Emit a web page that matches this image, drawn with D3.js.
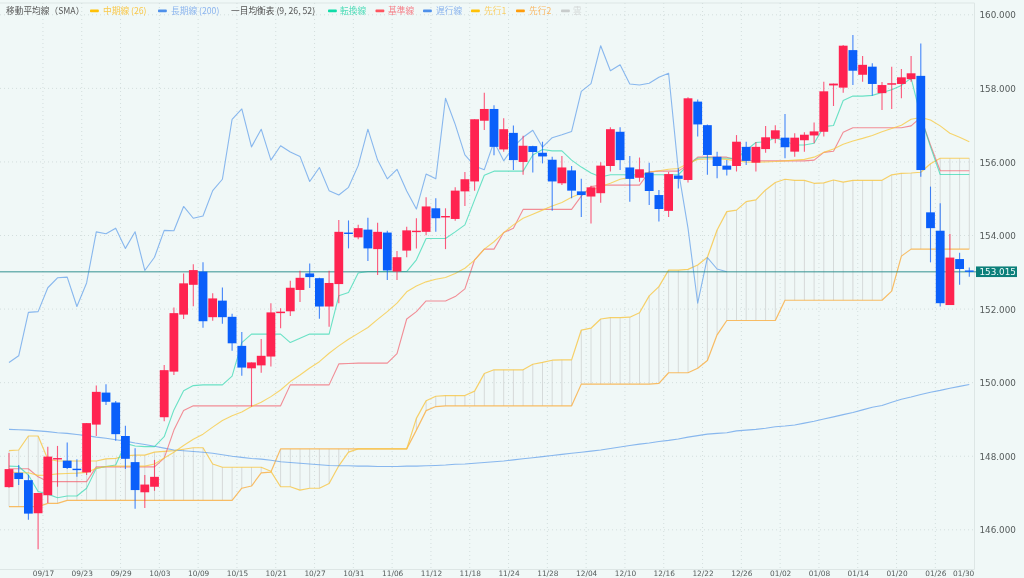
<!DOCTYPE html>
<html><head><meta charset="utf-8">
<script src="https://cdn.jsdelivr.net/npm/d3@7/dist/d3.min.js"></script>
<style>
html,body{margin:0;padding:0;background:#f0f8f7;overflow:hidden}
svg{display:block;filter:blur(0.35px)}
text{font-family:"DejaVu Sans",sans-serif}
</style></head><body>
<svg id="c" width="1024" height="578"></svg>
<script>
const tickLabels=["09/17","09/23","09/29","10/03","10/09","10/15","10/21","10/27","10/31","11/06","11/12","11/18","11/24","11/28","12/04","12/10","12/16","12/22","12/26","01/02","01/08","01/14","01/20","01/26","01/30"];
const priceTicks=[146,148,150,152,154,156,158,160];
const lastPrice=153.015;
const open=[147.16,147.55,147.35,146.45,146.94,147.93,147.88,147.66,147.56,148.86,
149.73,149.46,148.55,147.84,147.02,147.17,149.06,150.30,151.85,152.66,
153.02,151.78,152.23,151.79,151.00,150.39,150.47,150.71,151.89,151.94,
152.52,152.97,152.84,152.07,152.68,154.08,153.95,154.16,153.63,154.08,
153.02,153.59,154.10,154.10,154.74,154.51,154.45,155.20,155.47,157.12,
157.44,156.34,156.79,156.00,156.43,156.25,156.06,155.42,155.77,155.20,
155.06,155.15,155.89,156.82,155.85,155.57,155.71,155.10,154.67,155.63,
155.51,157.64,157.00,156.14,155.90,155.89,156.41,155.98,156.35,156.63,
156.66,156.28,156.59,156.72,156.82,158.08,158.02,159.04,158.37,158.59,
157.87,158.10,158.12,158.25,158.34,154.63,154.13,152.11,153.36,153.05];
const high=[148.09,147.76,147.49,147.00,148.26,148.28,148.37,147.92,148.90,149.92,
149.96,149.50,148.83,148.22,147.49,147.90,150.48,152.04,152.97,153.22,
153.27,152.43,152.59,151.87,151.38,150.55,151.19,152.16,152.02,152.77,
153.04,153.24,152.85,153.04,154.42,154.41,154.29,154.48,154.35,154.13,
153.58,154.24,154.47,155.04,155.01,154.74,155.31,155.73,157.16,157.88,
157.54,157.19,156.99,156.71,156.44,156.55,156.14,156.16,155.89,155.54,
155.35,155.99,156.94,156.94,156.16,156.12,155.98,155.24,155.73,155.83,
157.76,157.70,157.02,156.28,156.05,156.73,156.55,156.54,156.98,157.00,
157.30,156.78,156.81,157.07,158.18,158.13,159.18,159.45,158.88,158.68,
158.17,158.59,158.53,158.88,159.22,155.33,154.88,154.04,153.53,153.13];
const low=[147.14,147.22,146.27,145.47,146.73,147.17,147.65,147.44,147.49,148.55,
149.39,148.42,147.65,146.57,146.59,147.06,148.95,150.21,151.73,152.08,
151.49,151.68,151.60,150.87,150.19,149.35,150.27,150.44,151.48,151.81,
152.19,152.57,151.74,151.52,152.16,153.65,153.90,153.31,152.93,152.79,
152.79,153.41,153.65,154.01,154.10,153.63,154.40,154.80,155.22,156.87,
156.18,156.28,155.78,155.65,155.71,155.96,154.67,155.37,155.01,154.50,
154.33,154.89,155.74,155.78,154.92,155.46,154.83,154.38,154.50,155.28,
155.44,156.69,155.65,155.56,155.63,155.74,155.92,155.74,156.25,156.51,
156.10,156.14,156.28,156.51,156.69,157.52,157.88,158.09,158.18,157.80,
157.41,157.44,157.73,158.18,155.60,153.27,152.07,152.11,152.66,152.88];
const close=[147.65,147.38,146.44,147.00,147.99,147.95,147.68,147.63,148.90,149.75,
149.48,148.60,147.93,147.08,147.23,147.44,150.34,151.89,152.70,153.06,
151.67,152.29,151.78,151.07,150.41,150.55,150.73,151.91,151.93,152.58,
152.85,152.87,152.07,152.71,154.10,154.05,154.20,153.65,154.10,153.05,
153.41,154.14,154.13,154.79,154.47,154.53,155.22,155.53,157.16,157.44,
156.41,156.89,156.05,156.44,156.27,156.15,155.47,155.85,155.22,155.10,
155.31,155.90,156.89,156.05,155.54,155.80,155.21,154.72,155.67,155.54,
157.73,157.02,156.19,155.89,155.79,156.55,156.03,156.41,156.67,156.86,
156.40,156.66,156.74,156.83,157.92,158.13,159.16,158.48,158.64,158.12,
158.09,158.14,158.30,158.41,155.78,154.20,152.16,153.40,153.09,153.015];
const sma26=[147.58,147.55,147.55,147.48,147.49,147.52,147.53,147.54,147.56,147.67,
147.72,147.73,147.73,147.73,147.73,147.79,147.95,148.11,148.29,148.46,
148.60,148.79,148.97,149.10,149.20,149.35,149.47,149.62,149.80,150.03,
150.21,150.40,150.57,150.80,151.00,151.18,151.34,151.50,151.72,151.93,
152.16,152.47,152.63,152.74,152.81,152.86,152.97,153.11,153.33,153.63,
153.83,154.08,154.29,154.47,154.58,154.69,154.80,154.90,155.04,155.15,
155.22,155.33,155.42,155.53,155.58,155.66,155.72,155.76,155.80,155.82,
155.96,156.07,156.08,156.08,156.07,156.03,156.00,155.99,156.00,156.01,
156.03,156.05,156.07,156.13,156.26,156.35,156.48,156.57,156.64,156.72,
156.82,156.91,157.00,157.16,157.21,157.14,156.98,156.78,156.67,156.55];
const sma200=[148.73,148.72,148.71,148.69,148.67,148.64,148.62,148.59,148.56,148.52,
148.49,148.45,148.41,148.36,148.32,148.27,148.22,148.17,148.15,148.13,
148.11,148.08,148.04,148.00,147.97,147.94,147.92,147.89,147.85,147.83,
147.81,147.79,147.77,147.75,147.74,147.74,147.73,147.73,147.72,147.72,
147.72,147.73,147.73,147.74,147.75,147.76,147.78,147.79,147.81,147.83,
147.85,147.87,147.90,147.93,147.96,147.99,148.02,148.05,148.08,148.11,
148.14,148.17,148.21,148.25,148.29,148.33,148.36,148.40,148.43,148.47,
148.52,148.56,148.60,148.62,148.64,148.69,148.71,148.73,148.76,148.80,
148.82,148.85,148.90,148.95,149.01,149.07,149.13,149.19,149.26,149.33,
149.38,149.47,149.55,149.61,149.68,149.74,149.79,149.85,149.90,149.95];
const tenkan=[147.73,147.72,147.49,147.04,146.97,146.87,146.92,146.92,147.13,147.67,
147.72,147.76,148.35,148.28,148.26,148.26,148.53,149.26,149.78,149.92,
149.94,149.94,149.94,150.18,151.09,151.32,151.32,151.32,151.32,151.09,
151.21,151.32,151.32,151.32,152.36,152.45,152.98,153.02,153.02,153.02,
153.02,153.02,153.34,153.92,153.92,153.92,154.10,154.29,154.97,155.64,
155.75,155.75,155.75,155.75,156.19,156.34,156.30,156.30,156.05,155.86,
155.70,155.59,155.65,155.65,155.65,155.65,155.65,155.65,155.65,155.65,
155.92,156.10,156.12,156.10,156.10,156.10,156.32,156.53,156.55,156.65,
156.57,156.46,156.46,156.51,156.96,156.99,157.67,157.79,157.79,157.81,
157.89,157.96,158.08,158.28,157.23,156.41,155.66,155.66,155.66,155.66];
const kijun=[147.66,147.66,147.66,147.44,147.31,147.31,147.31,147.31,147.31,147.71,
147.71,147.71,147.71,147.71,147.71,147.71,147.95,148.71,149.24,149.37,
149.37,149.37,149.37,149.37,149.37,149.37,149.37,149.37,149.37,149.94,
149.94,149.94,149.94,149.94,150.51,150.52,150.53,150.53,150.53,150.53,
150.79,151.73,151.93,152.22,152.22,152.22,152.34,152.55,153.34,153.63,
153.63,154.08,154.20,154.71,154.71,154.71,154.71,154.71,154.71,155.07,
155.33,155.37,155.37,155.37,155.37,155.37,155.73,155.75,155.75,155.75,
155.92,156.13,156.13,156.13,156.13,156.05,156.04,156.03,156.03,156.03,
156.03,156.03,156.03,156.05,156.26,156.29,156.81,156.93,156.93,156.93,
156.93,156.93,156.93,156.98,157.21,156.46,155.76,155.76,155.76,155.76];
const chikou=[150.55,150.73,151.91,151.93,152.58,152.85,152.87,152.07,152.71,154.10,
154.05,154.20,153.65,154.10,153.05,153.41,154.14,154.13,154.79,154.47,
154.53,155.22,155.53,157.16,157.44,156.41,156.89,156.05,156.44,156.27,
156.15,155.47,155.85,155.22,155.10,155.31,155.90,156.89,156.05,155.54,
155.80,155.21,154.72,155.67,155.54,157.73,157.02,156.19,155.89,155.79,
156.55,156.03,156.41,156.67,156.86,156.40,156.66,156.74,156.83,157.92,
158.13,159.16,158.48,158.64,158.12,158.09,158.14,158.30,158.41,155.78,
154.20,152.16,153.40,153.09,153.015];
const span1=[148.15,148.17,148.55,148.55,147.92,147.87,147.87,147.87,147.87,147.87,
147.93,147.94,148.01,148.03,148.03,148.11,148.13,148.15,148.19,148.23,
148.23,147.79,147.70,147.70,147.70,147.70,147.70,147.59,147.17,147.17,
147.08,147.13,147.13,147.26,147.74,148.11,148.20,148.20,148.20,148.20,
148.20,148.20,149.03,149.51,149.63,149.65,149.65,149.65,149.77,150.25,
150.35,150.35,150.35,150.35,150.50,150.55,150.61,150.62,150.62,151.43,
151.48,151.73,151.77,151.77,151.78,151.90,152.36,152.61,153.06,153.06,
153.08,153.20,153.41,154.15,154.65,154.69,154.92,154.97,155.24,155.44,
155.53,155.50,155.50,155.42,155.43,155.51,155.45,155.50,155.50,155.50,
155.50,155.65,155.69,155.70,155.72,155.95,156.10,156.10,156.10,156.10];
const span2=[146.63,146.63,146.63,146.63,146.72,146.72,146.80,146.80,146.80,146.80,
146.80,146.80,146.80,146.80,146.80,146.80,146.80,146.80,146.80,146.80,
146.80,146.80,146.80,146.80,147.13,147.19,147.55,147.57,148.20,148.20,
148.20,148.20,148.20,148.20,148.20,148.20,148.20,148.20,148.20,148.20,
148.20,148.20,148.71,149.24,149.35,149.37,149.37,149.37,149.37,149.37,
149.37,149.37,149.37,149.37,149.37,149.37,149.37,149.37,149.37,149.96,
149.96,149.96,149.96,149.96,149.96,149.96,149.96,149.98,150.27,150.27,
150.27,150.39,150.60,151.30,151.69,151.69,151.69,151.69,151.69,151.69,
152.24,152.24,152.24,152.24,152.24,152.24,152.24,152.24,152.24,152.24,
152.24,152.49,153.44,153.63,153.63,153.63,153.63,153.63,153.63,153.63];

for(const [n,a,l] of [["open",open,100],["high",high,100],["low",low,100],["close",close,100],["sma26",sma26,100],["sma200",sma200,100],["tenkan",tenkan,100],["kijun",kijun,100],["chikou",chikou,75],["span1",span1,100],["span2",span2,100]]) if(a.length!==l) throw new Error(n+" "+a.length);

const svg=d3.select("#c");
const L=0,R=974.5,T=3,B=569.5;
const x=d3.scaleLinear().domain([0,99]).range([9,969.3]);
const y=d3.scaleLinear().domain([146,160]).range([529.8,14.8]);
const idx=d3.range(open.length);
const tickPos=tickLabels.map((_,i)=>3.5+4*i);
const tickBy=new Map(tickPos.map((p,i)=>[p,tickLabels[i]]));
const UP="#ff2350",DOWN="#0a5ffa",GRID="#d3dedd",AX="#dde6e5";

// frame
svg.append("path").attr("d",`M0,${T}H${R}V${B}H0`).attr("fill","none").attr("stroke",AX).attr("stroke-width",1);

// grid
const g=svg.append("g");
g.selectAll(".gy").data(priceTicks).join("line").attr("x1",0).attr("x2",R).attr("y1",d=>y(d)).attr("y2",d=>y(d))
 .attr("stroke",GRID).attr("stroke-dasharray","1 3");
g.selectAll(".gx").data(tickPos.slice(0,-1)).join("line").attr("x1",d=>x(d)).attr("x2",d=>x(d)).attr("y1",T).attr("y2",B)
 .attr("stroke",GRID).attr("stroke-dasharray","1 3");

// cloud hatch
svg.append("g").selectAll("line").data(idx).join("line")
 .attr("x1",d=>x(d)).attr("x2",d=>x(d)).attr("y1",d=>y(span1[d])).attr("y2",d=>y(span2[d]))
 .attr("stroke","#cfd2d2").attr("stroke-width",1).attr("opacity",.8);

const line=a=>d3.line().x((_,i)=>x(i)).y(d=>y(d))(a);
const series=[[span2,"#f9b24a",.85,1.2],[span1,"#f8c544",.8,1.2],[sma200,"#5b9bea",.7,1.1],[chikou,"#5b9bea",.7,1.1],[kijun,"#f2606c",.7,1.1],[tenkan,"#22d6aa",.65,1.1],[sma26,"#f8c83c",.75,1.1]];
svg.append("g").selectAll("path").data(series).join("path")
 .attr("d",d=>line(d[0])).attr("fill","none").attr("stroke",d=>d[1]).attr("opacity",d=>d[2]).attr("stroke-width",d=>d[3]).attr("stroke-linejoin","round");

// price line
svg.append("line").attr("x1",0).attr("x2",976).attr("y1",y(lastPrice)).attr("y2",y(lastPrice))
 .attr("stroke","#2f8f8f").attr("stroke-width",1.5).attr("opacity",.65);

// candles
const cg=svg.append("g").selectAll("g").data(idx).join("g");
cg.append("line").attr("x1",d=>x(d)).attr("x2",d=>x(d)).attr("y1",d=>y(high[d])).attr("y2",d=>y(low[d]))
 .attr("stroke",d=>close[d]>=open[d]?UP:DOWN).attr("stroke-width",1.1).attr("opacity",.75);
cg.append("rect").attr("x",d=>x(d)-4.4).attr("width",8.8)
 .attr("y",d=>y(Math.max(open[d],close[d]))).attr("height",d=>Math.max(1.4,Math.abs(y(open[d])-y(close[d]))))
 .attr("fill",d=>close[d]>=open[d]?UP:DOWN);

// axes
const yAxis=d3.axisRight(y).tickValues(priceTicks).tickFormat(d3.format(".3f")).tickSize(0).tickPadding(0);
const ya=svg.append("g").attr("transform","translate(979.5,0)").call(yAxis);
ya.select(".domain").remove();
ya.selectAll("text").attr("font-size",8.8).attr("fill","#555b5b").style("font-family",'"DejaVu Sans",sans-serif').attr("dy","0.35em");

const xAxis=d3.axisBottom(x).tickValues(tickPos).tickFormat(d=>tickBy.get(d)).tickSize(0).tickPadding(0);
const xa=svg.append("g").attr("transform",`translate(0,570.5)`).call(xAxis);
xa.select(".domain").remove();
xa.selectAll("text").attr("font-size",7.4).attr("fill","#555b5b").style("font-family",'"DejaVu Sans",sans-serif').attr("dy","0.71em");
xa.selectAll("g.tick").filter(d=>d===tickPos[tickPos.length-1]).select("text").attr("dx",-11);

// price tag
const tag=svg.append("g");
tag.append("rect").attr("x",976).attr("y",y(lastPrice)-5.3).attr("width",41).attr("height",10.6).attr("fill","#0b7f7a");
tag.append("text").attr("x",979.5).attr("y",y(lastPrice)).attr("dy","0.35em").attr("font-size",8.8).attr("fill","#f0fbfa").text(d3.format(".3f")(lastPrice));

// legend
const lg=svg.append("g");
const cjk='"Noto Sans CJK JP","DejaVu Sans",sans-serif';
const labels=[
 {t:"移動平均線（SMA）",x:6,c:"#555555"},
 {t:"中期線 (26)",x:103,c:"#f9c84a",sw:"#ffc107",sx:90},
 {t:"長期線 (200)",x:171,c:"#8bb4ee",sw:"#4e90ea",sx:158},
 {t:"一目均衡表 (9, 26, 52)",x:231,c:"#555555"},
 {t:"転換線",x:340,c:"#4fdcb8",sw:"#0fdca8",sx:328},
 {t:"基準線",x:388,c:"#f57f88",sw:"#ff5560",sx:375.5},
 {t:"遅行線",x:436,c:"#8bb4ee",sw:"#4e90ea",sx:423},
 {t:"先行1",x:484,c:"#f9cf66",sw:"#ffc107",sx:471},
 {t:"先行2",x:529,c:"#f9b866",sw:"#ff9c0a",sx:516},
 {t:"雲",x:573,c:"#d4d8d8",sw:"#c8cccc",sx:561}
];
lg.selectAll("text").data(labels).join("text").attr("x",d=>d.x).attr("y",11).attr("dy","0.35em")
 .attr("font-size",8.7).attr("fill",d=>d.c).style("font-family",cjk).text(d=>d.t);
lg.selectAll("rect").data(labels.filter(d=>d.sw)).join("rect").attr("x",d=>d.sx).attr("y",9.6).attr("width",8.8).attr("height",2.6).attr("rx",.8).attr("fill",d=>d.sw);
</script>
</body></html>
